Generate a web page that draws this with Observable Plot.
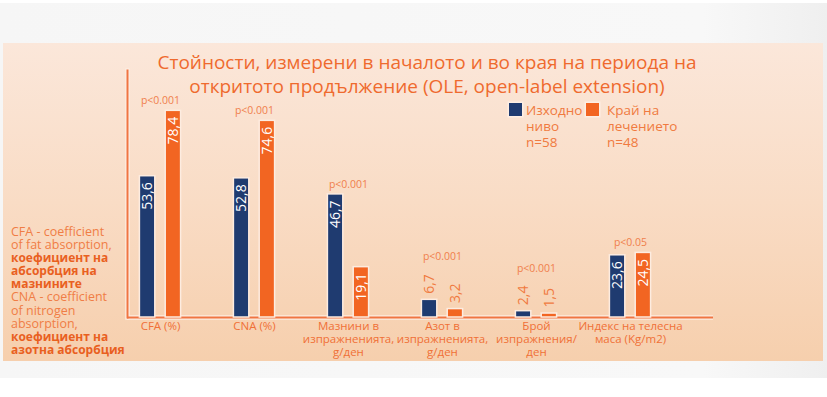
<!DOCTYPE html>
<html>
<head>
<meta charset="utf-8">
<script src="https://cdn.jsdelivr.net/npm/d3@7"></script>
<script src="https://cdn.jsdelivr.net/npm/@observablehq/plot@0.6"></script>
<style>
  body { margin: 0; background: #ffffff; }
  #wrap { position: relative; width: 827px; height: 397px; overflow: hidden; font-family: "Open Sans", sans-serif; }
  #outer { position: absolute; left: 0; top: 3px; width: 827px; height: 375px; background: linear-gradient(to right, #f6f6f6 0%, #f8f8f8 85%, #efefef 100%); }
  #panel { position: absolute; left: 3px; top: 43px; width: 820px; height: 318px; background: linear-gradient(to bottom, #fbe7da 0%, #f9dcc5 50%, #f6cfad 100%); }
  #title { position: absolute; left: 127px; top: 50px; width: 600px; text-align: center; font-size: 19px; line-height: 24px; color: #ef6a2e; }
  #note { position: absolute; left: 11px; top: 225px; font-size: 12.5px; line-height: 13.1px; color: #f07d45; }
  #note b { color: #e9601f; font-weight: 700; font-size: 12px; }
  .leg { position: absolute; top: 102px; font-size: 13.5px; line-height: 16px; color: #f07a40; }
  .sw { position: absolute; top: 103px; width: 13px; height: 13px; box-shadow: 0 0 0 1.5px #fdeee3; }
  #chart { position: absolute; left: 0; top: 0; }
</style>
</head>
<body>
<div id="wrap">
  <div id="outer"></div>
  <div id="panel"></div>
  <div id="chart"></div>
  <div id="title">Стойности, измерени в началото и во края на периода на<br>откритото продължение (OLE, open-label extension)</div>
  <div id="note">CFA - coefficient<br>of fat absorption,<br><b>коефициент на<br>абсорбция на<br>мазнините</b><br>CNA - coefficient<br>of nitrogen<br>absorption,<br><b>коефициент на<br>азотна абсорбция</b></div>
  <div class="sw" id="sw0"></div>
  <div class="leg" id="leg0"></div>
  <div class="sw" id="sw1"></div>
  <div class="leg" id="leg1"></div>
</div>
<script>
const categories = [
  "CFA (%)",
  "CNA (%)",
  "Мазнини в\nизпражненията,\ng/ден",
  "Азот в\nизпражненията,\ng/ден",
  "Брой\nизпражнения/\nден",
  "Индекс на телесна\nмаса (Kg/m2)"
];
const baselineValues = [53.6, 52.8, 46.7, 6.7, 2.4, 23.6];
const endValues = [78.4, 74.6, 19.1, 3.2, 1.5, 24.5];
const pValues = ["p<0.001", "p<0.001", "p<0.001", "p<0.001", "p<0.001", "p<0.05"];
const seriesNames = ["Изходно\nниво\nn=58", "Край на\nлечението\nn=48"];
const seriesColors = ["#1f3b70", "#f26522"];

const halo = "#fdece0";
const labelOrange = "#f07a40";

const rows = [];
categories.forEach((c, i) => {
  rows.push({cat: c, s: 0, value: baselineValues[i]});
  rows.push({cat: c, s: 1, value: endValues[i]});
});
const fmt = v => v.toFixed(1).replace(".", ",");
const pRows = categories.map((c, i) => ({cat: c, p: pValues[i], top: Math.max(baselineValues[i], endValues[i])}));
const isOutside = v => v < 10;

const barOpts = [
  {insetLeft: 12.4, insetRight: 38.2},
  {insetLeft: 38.2, insetRight: 12.4}
];
const shift = [-12.9, 12.9];

const marks = [];
marks.push(Plot.ruleY([0], {stroke: halo, strokeWidth: 4.5}));
marks.push(Plot.frame({anchor: "left", stroke: halo, strokeWidth: 4.5}));
marks.push(Plot.ruleY([0], {stroke: "#f07542", strokeWidth: 2}));
marks.push(Plot.frame({anchor: "left", stroke: "#f07542", strokeWidth: 2}));

[0, 1].forEach(s => {
  const data = rows.filter(d => d.s === s);
  marks.push(Plot.barY(data, {x: "cat", y: "value", fill: seriesColors[s], stroke: halo, strokeWidth: 1.5, ...barOpts[s]}));
  marks.push(Plot.text(data.filter(d => !isOutside(d.value)), {
    x: "cat", y: "value", text: d => fmt(d.value), rotate: -90, textAnchor: "end",
    dx: shift[s], dy: 6, fill: "white", fontSize: 14
  }));
  marks.push(Plot.text(data.filter(d => isOutside(d.value)), {
    x: "cat", y: "value", text: d => fmt(d.value), rotate: -90, textAnchor: "start",
    dx: shift[s], dy: -6, fill: labelOrange, fontSize: 14
  }));
});

marks.push(Plot.text(pRows.filter(d => !isOutside(d.top)), {x: "cat", y: "top", text: "p", dy: -10, fill: "#f07f4c", fontSize: 10.5}));
marks.push(Plot.text(pRows.filter(d => isOutside(d.top)), {x: "cat", y: "top", text: "p", dy: -43, fill: "#f07f4c", fontSize: 10.5}));

marks.push(Plot.text(categories, {x: d => d, y: () => 0, text: d => d, lineAnchor: "top", dy: 3, fill: "#f07037", fontSize: 11.5, lineHeight: 1.13}));

const chart = Plot.plot({
  width: 827,
  height: 397,
  marginTop: 70,
  marginBottom: 80,
  marginLeft: 127,
  marginRight: 114,
  style: {background: "transparent", fontFamily: "Open Sans, sans-serif", overflow: "visible"},
  x: {domain: categories, paddingInner: 0.294, paddingOuter: 0.253, align: 0, axis: null},
  y: {domain: [0, 93.7], axis: null},
  marks
});
document.getElementById("chart").appendChild(chart);

const legX = [[509, 526], [586, 607]];
seriesNames.forEach((n, i) => {
  const sw = document.getElementById("sw" + i);
  sw.style.left = legX[i][0] + "px";
  sw.style.background = seriesColors[i];
  const lg = document.getElementById("leg" + i);
  lg.style.left = legX[i][1] + "px";
  lg.innerHTML = n.split("\n").join("<br>");
});
</script>
</body>
</html>
